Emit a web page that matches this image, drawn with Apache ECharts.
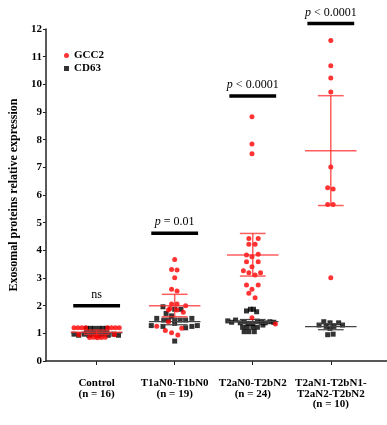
<!DOCTYPE html>
<html>
<head>
<meta charset="utf-8">
<script src="https://cdn.jsdelivr.net/npm/echarts@6/dist/echarts.min.js"></script>
<style>html,body{margin:0;padding:0;background:#fff}#c{width:387px;height:425px}</style>
</head>
<body>
<div id="c"></div>
<script>
// ---------- data ----------
const categories = ['Control\n(n = 16)', 'T1aN0-T1bN0\n(n = 19)', 'T2aN0-T2bN2\n(n = 24)', 'T2aN1-T2bN1-\nT2aN2-T2bN2\n(n = 10)'];
const yTicks = [0,1,2,3,4,5,6,7,8,9,10,11,12];

// GCC2 values per group and horizontal jitter (category units)
const gcc2Values = [
  [1.2,1.2,1.2,1.2,1.2,1.2,1.2,1.2, 0.95,0.95, 0.85,0.86,0.84,0.85,0.86,0.9],
  [3.67,3.31,3.29,3.01,2.59,2.53,2.06,2.06,2.0,1.9,1.84,1.84,1.76,1.42,1.26,1.10,1.02,0.94,1.18],
  [8.83,7.84,7.49,4.43,4.43,4.22,4.22,3.83,3.86,3.77,3.59,3.59,3.41,3.26,3.19,3.11,3.19,2.75,2.75,2.59,2.45,2.29,1.56,1.34],
  [11.58,10.67,10.23,9.72,7.01,6.26,6.22,5.66,5.66,3.01]
];
const gcc2Jitter = [
  [-0.29,-0.24,-0.19,-0.14,0.14,0.19,0.24,0.29, -0.23,0.23, -0.09,-0.04,0.01,0.06,0.11,0.0],
  [0.0,-0.04,0.03,0.0,-0.04,0.03,-0.04,0.03,0.14,-0.06,-0.08,0.03,0.11,-0.08,-0.23,-0.12,-0.04,0.04,0.09],
  [-0.01,-0.01,-0.01,-0.05,0.07,-0.05,0.03,-0.08,0.07,-0.01,-0.08,0.07,-0.01,-0.12,-0.05,0.03,0.10,-0.08,0.07,-0.01,-0.05,0.03,-0.01,0.29],
  [0,0,0,0,0,-0.04,0.03,-0.04,0.03,0]
];

// CD63 values per group and jitter
const cd63Values = [
  [1.18,1.18,1.18,1.18,1.18,1.18, 0.97,0.93,0.97,0.93,0.97,0.93,0.97,0.93,0.97,0.93],
  [1.96,1.87,1.87,1.72,1.63,1.54,1.54,1.48,1.48,1.48,1.48,1.48,1.36,1.28,1.28,1.25,1.25,1.2,0.72],
  [1.81,1.87,1.87,1.78, 1.45,1.40,1.48,1.38,1.42,1.36,1.44,1.40,1.38,1.42,1.40,1.35, 1.22,1.22,1.22,1.22,1.3, 1.06,1.06,1.06],
  [1.42,1.38,1.38,1.3,1.25,1.25,1.3,1.18,0.95,0.97]
];
const cd63Jitter = [
  [-0.13,-0.08,-0.03,0.03,0.08,0.13, -0.29,-0.23,-0.16,-0.10,-0.04,0.03,0.09,0.15,0.22,0.28],
  [-0.15,0.0,0.08,-0.11,-0.04,-0.23,0.22,-0.14,-0.08,0.0,0.07,0.14,0.0,-0.30,0.29,0.22,-0.15,0.14,0.0],
  [-0.08,-0.03,0.01,0.05, -0.32,-0.27,-0.22,-0.16,-0.11,-0.06,0.06,0.11,0.16,0.22,0.27,0.0, -0.13,-0.07,0.0,0.06,0.13, -0.11,-0.05,0.02],
  [-0.09,-0.01,0.10,-0.15,-0.06,0.04,0.15,-0.01,-0.04,0.03]
];

// mean and 95% CI
const gcc2Mean = [1.04, 2.0, 3.83, 7.60];
const gcc2Low  = [0.96, 1.6, 3.07, 5.62];
const gcc2High = [1.12, 2.41, 4.61, 9.59];
const cd63Mean = [1.02, 1.42, 1.42, 1.24];
const cd63Low  = [0.97, 1.31, 1.36, 1.13];
const cd63High = [1.07, 1.53, 1.50, 1.35];

// significance annotations
const sigY = [2.0, 4.62, 9.58, 12.2];
const sigLabels = ['ns', '{i|p} = 0.01', '{i|p} < 0.0001', '{i|p} < 0.0001'];

// ---------- build ----------
const FONT = "'Liberation Serif','Times New Roman',serif";
function pts(vals, jit) {
  const out = [];
  vals.forEach((arr, g) => arr.forEach((v, i) => out.push([g + 1 + jit[g][i], v])));
  return out;
}
function errData(m, lo, hi) { return m.map((v, g) => [g + 1, v, lo[g], hi[g]]); }
function errRender(color, width) {
  return function (params, api) {
    const x = api.value(0), m = api.value(1), lo = api.value(2), hi = api.value(3);
    const c = (a, b) => api.coord([a, b]);
    const line = (p1, p2) => ({ type: 'line', shape: { x1: p1[0], y1: p1[1], x2: p2[0], y2: p2[1] }, style: { stroke: color, lineWidth: width } });
    return { type: 'group', children: [
      line(c(x, lo), c(x, hi)),
      line(c(x - 0.165, lo), c(x + 0.165, lo)),
      line(c(x - 0.165, hi), c(x + 0.165, hi)),
      line(c(x - 0.33, m), c(x + 0.33, m))
    ]};
  };
}

const chart = echarts.init(document.getElementById('c'), null, { renderer: 'canvas' });
chart.setOption({
  animation: false,
  backgroundColor: '#fff',
  grid: { left: 42, right: 0, top: 29, bottom: 64 },
  legend: {
    data: ['GCC2', 'CD63'], orient: 'vertical', left: 64, top: 50, padding: 0,
    itemWidth: 5, itemHeight: 5, itemGap: 2,
    textStyle: { fontFamily: FONT, fontWeight: 'bold', fontSize: 11, color: '#000' }
  },
  xAxis: {
    type: 'value', min: 0.35, max: 4.72,
    axisLine: { lineStyle: { color: '#222', width: 1.5 } },
    splitLine: { show: false },
    axisTick: { show: true, customValues: [1, 2, 3, 4], length: 4, lineStyle: { color: '#222' } },
    axisLabel: {
      customValues: [1, 2, 3, 4], margin: 17,
      formatter: v => categories[Math.round(v) - 1] || '',
      fontFamily: FONT, fontWeight: 'bold', fontSize: 11, lineHeight: 10.5, color: '#000'
    }
  },
  yAxis: {
    type: 'value', min: 0, max: 12, interval: 1,
    name: 'Exosomal proteins relative expression', nameLocation: 'middle', nameGap: 24,
    nameTextStyle: { fontFamily: FONT, fontWeight: 'bold', fontSize: 12, color: '#000' },
    axisLine: { show: true, lineStyle: { color: '#222', width: 1.5 } },
    axisTick: { show: true, length: 3, lineStyle: { color: '#222' } },
    splitLine: { show: false },
    axisLabel: { margin: 4, fontFamily: FONT, fontWeight: 'bold', fontSize: 11, color: '#000',
      formatter: v => yTicks.indexOf(v) >= 0 ? String(v) : '' }
  },
  series: [
    { name: 'CD63', type: 'scatter', symbol: 'rect', symbolSize: 5, itemStyle: { color: '#000' }, data: pts(cd63Values, cd63Jitter), z: 3 },
    { name: 'CD63 err', type: 'custom', renderItem: errRender('#444', 1.2), data: errData(cd63Mean, cd63Low, cd63High), z: 4 },
    { name: 'GCC2', type: 'scatter', symbol: 'circle', symbolSize: 5, itemStyle: { color: '#ff0000' }, data: pts(gcc2Values, gcc2Jitter), z: 5 },
    { name: 'GCC2 err', type: 'custom', renderItem: errRender('rgba(255,40,40,0.75)', 1.5), data: errData(gcc2Mean, gcc2Low, gcc2High), z: 6 },
    { name: 'sig', type: 'custom', clip: false, z: 7,
      data: sigY.map((y, g) => [g + 1, y, g]),
      renderItem: function (params, api) {
        const x = api.value(0), y = api.value(1), g = api.value(2);
        const a = api.coord([x - 0.3, y]), b = api.coord([x + 0.3, y]);
        return { type: 'group', children: [
          { type: 'rect', shape: { x: a[0], y: a[1] - 1.75, width: b[0] - a[0], height: 3.5 }, style: { fill: '#000' } },
          { type: 'text', style: { text: sigLabels[g], x: (a[0] + b[0]) / 2, y: a[1] - 5, align: 'center', verticalAlign: 'bottom',
              fontFamily: FONT, fontSize: 12, fill: '#000', rich: { i: { fontStyle: 'italic', fontFamily: FONT, fontSize: 12 } } } }
        ]};
      }
    }
  ]
});
</script>
</body>
</html>
